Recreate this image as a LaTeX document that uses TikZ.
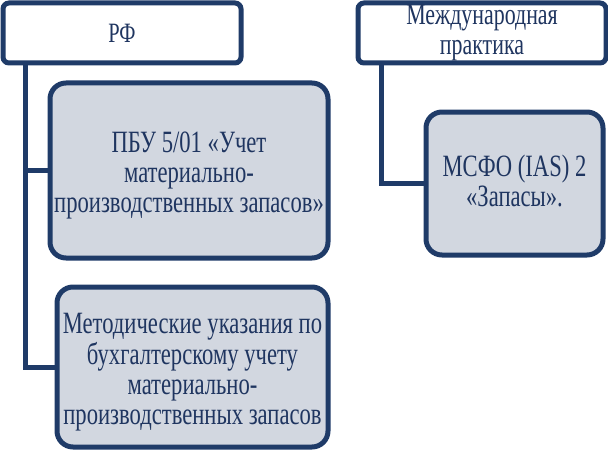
\documentclass[tikz,border=0pt]{standalone}
\usepackage{fontspec}
\setmainfont[FakeStretch=0.73]{Liberation Serif}
\usetikzlibrary{calc}
\definecolor{navy}{HTML}{1F3B68}
\definecolor{txt}{HTML}{1F3560}
\definecolor{boxfill}{HTML}{D2D7E0}
\newcommand{\dnshift}[2]{\raisebox{-#1}[\height][\depth]{\begin{tabular}{@{}c@{}}#2\end{tabular}}}
\tikzset{
  head/.style={draw=navy, line width=5pt, rounded corners=6pt, fill=white, text=txt, align=center, font=\fontsize{30}{30}\selectfont, inner sep=0pt},
  item/.style={draw=navy, line width=5pt, rounded corners=16pt, fill=boxfill, text=txt, align=center, font=\fontsize{31}{30}\selectfont, inner sep=0pt},
  link/.style={draw=navy, line width=5pt}
}
\begin{document}
\begin{tikzpicture}[x=1pt,y=-1pt]
\useasboundingbox (0,0) rectangle (608,452);
\node[head, minimum width=238pt, minimum height=60pt] (rf) at (122,33) {\fontsize{28}{30}\selectfont РФ};
\node[head, minimum width=248pt, minimum height=60pt] (mp) at (482,33) {Международная\\практика};
\node[item, minimum width=278pt, minimum height=175pt] (b1) at (189,170.5) {\dnshift{6pt}{ПБУ 5/01 «Учет\\материально-\\производственных запасов»}};
\node[item, minimum width=271pt, minimum height=160pt] (b2) at (192.5,367) {\dnshift{6pt}{Методические указания по\\бухгалтерскому учету\\материально-\\производственных запасов}};
\node[item, minimum width=177pt, minimum height=143pt] (b3) at (514.5,183.5) {\dnshift{2pt}{МСФО (IAS) 2\\«Запасы».}};
\draw[link] ($(rf.south west)+(25,0)$) |- (b1.west);
\draw[link] ($(rf.south west)+(25,0)$) |- (b2.west);
\draw[link] ($(mp.south west)+(26,0)$) |- (b3.west);
\end{tikzpicture}
\end{document}
